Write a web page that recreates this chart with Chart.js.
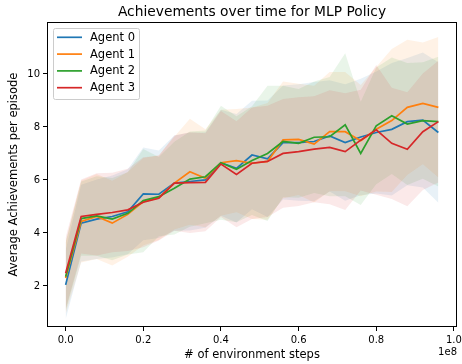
<!DOCTYPE html>
<html>
<head>
<meta charset="utf-8">
<script src="https://cdn.jsdelivr.net/npm/chart.js@4"></script>
<style>
  body { margin: 0; background: #fff; }
</style>
</head>
<body>
<canvas id="achievements" width="462" height="364"></canvas>
<script>
// environment steps (x values)
var steps = [0, 4e6, 8e6, 12e6, 16e6, 20e6, 24e6, 28e6, 32e6, 36e6, 40e6, 44e6, 48e6,
  52e6, 56e6, 60e6, 64e6, 68e6, 72e6, 76e6, 80e6, 84e6, 88e6, 92e6, 96e6];

var agentNames = ["Agent 0", "Agent 1", "Agent 2", "Agent 3"];

// mean achievements per episode
var agent0Mean = [2.04, 4.37, 4.52, 4.62, 4.80, 5.47, 5.46, 5.88, 5.94, 6.00, 6.65, 6.44, 6.94,
  6.80, 7.41, 7.41, 7.45, 7.66, 7.41, 7.62, 7.79, 7.91, 8.20, 8.26, 7.79];
var agent1Mean = [2.30, 4.43, 4.62, 4.37, 4.70, 5.18, 5.33, 5.88, 6.31, 6.06, 6.65, 6.73, 6.63,
  6.70, 7.51, 7.53, 7.35, 7.82, 7.82, 7.48, 7.91, 8.24, 8.74, 8.89, 8.74];
var agent2Mean = [2.35, 4.54, 4.64, 4.52, 4.74, 5.22, 5.37, 5.69, 6.03, 6.12, 6.65, 6.40, 6.73,
  7.00, 7.45, 7.38, 7.61, 7.63, 8.08, 7.00, 8.04, 8.42, 8.11, 8.24, 8.20];
var agent3Mean = [2.48, 4.62, 4.70, 4.77, 4.87, 5.16, 5.31, 5.88, 5.90, 5.91, 6.60, 6.21, 6.63,
  6.70, 7.00, 7.07, 7.16, 7.23, 7.07, 7.50, 7.89, 7.38, 7.16, 7.82, 8.20];

// standard deviation (shaded band)
var agent0Std = [1.30, 1.45, 1.50, 1.55, 1.60, 1.75, 1.65, 1.80, 1.85, 1.80, 2.00, 2.05, 2.05,
  2.20, 2.15, 2.20, 2.25, 2.10, 2.20, 2.20, 2.30, 2.50, 2.40, 2.55, 2.65];
var agent1Std = [1.35, 1.55, 1.60, 1.60, 1.60, 1.65, 1.60, 1.75, 2.00, 1.85, 2.00, 1.95, 2.10,
  2.20, 2.20, 2.10, 2.20, 2.25, 2.25, 2.10, 2.35, 2.70, 2.55, 2.30, 2.65];
var agent2Std = [1.30, 1.40, 1.50, 1.55, 1.55, 1.95, 1.50, 1.75, 1.80, 1.75, 2.15, 2.00, 2.05,
  2.55, 2.10, 2.05, 2.10, 2.25, 2.70, 1.95, 2.20, 2.20, 2.30, 2.20, 2.45];
var agent3Std = [1.35, 1.40, 1.55, 1.50, 1.55, 1.70, 1.60, 1.80, 1.90, 1.85, 2.00, 2.00, 2.10,
  2.10, 2.05, 2.05, 2.00, 2.15, 2.20, 1.90, 2.45, 2.10, 2.15, 2.20, 2.30];

var xTicks = [0, 0.2e8, 0.4e8, 0.6e8, 0.8e8, 1.0e8];
var yTicks = [2, 4, 6, 8, 10];

var colors = ["#1f77b4", "#ff7f0e", "#2ca02c", "#d62728"];
var fills = ["rgba(31,119,180,0.1)", "rgba(255,127,14,0.1)", "rgba(44,160,44,0.1)", "rgba(214,39,40,0.1)"];

var means = [agent0Mean, agent1Mean, agent2Mean, agent3Mean];
var stds = [agent0Std, agent1Std, agent2Std, agent3Std];

function pts(vals) {
  return vals.map(function (v, i) { return { x: steps[i], y: v }; });
}

var datasets = [];
// lines first (they are the legend entries)
means.forEach(function (m, k) {
  datasets.push({
    label: agentNames[k],
    data: pts(m),
    borderColor: colors[k],
    borderWidth: 1.7,
    pointRadius: 0,
    fill: false,
    tension: 0,
    order: 4 - k,
  });
});
// bands: lower (invisible) then upper filled to lower
means.forEach(function (m, k) {
  var lo = m.map(function (v, i) { return v - stds[k][i]; });
  var hi = m.map(function (v, i) { return v + stds[k][i]; });
  datasets.push({
    label: "lo" + k, data: pts(lo), borderWidth: 0, pointRadius: 0,
    fill: false, order: 20 - k,
  });
  datasets.push({
    label: "hi" + k, data: pts(hi), borderWidth: 0, pointRadius: 0,
    backgroundColor: fills[k], fill: "-1", order: 20 - k,
  });
});

var font = "DejaVu Sans";

var decor = {
  id: "decor",
  afterDraw: function (chart) {
    var ctx = chart.ctx, a = chart.chartArea;
    ctx.save();
    // frame
    ctx.strokeStyle = "#000";
    ctx.lineWidth = 1;
    ctx.strokeRect(Math.round(a.left) + 0.5, Math.round(a.top) + 0.5,
      Math.round(a.right - a.left) - 1, Math.round(a.bottom - a.top) - 1);

    // title
    ctx.fillStyle = "#000";
    ctx.font = "13.8px '" + font + "'";
    ctx.textAlign = "center";
    ctx.textBaseline = "middle";
    ctx.fillText("Achievements over time for MLP Policy", (a.left + a.right) / 2, 12);

    // offset text
    ctx.font = "10px '" + font + "'";
    ctx.textAlign = "right";
    ctx.fillText("1e8", a.right, 352);

    // legend
    var lx = a.left + 6, ly = a.top + 6, lw = 86, lh = 71;
    ctx.fillStyle = "rgba(255,255,255,0.8)";
    ctx.strokeStyle = "#cccccc";
    ctx.beginPath();
    ctx.roundRect(lx + 0.5, ly + 0.5, lw, lh, 2);
    ctx.fill();
    ctx.stroke();
    ctx.font = "11.5px '" + font + "'";
    ctx.textAlign = "left";
    for (var k = 0; k < 4; k++) {
      var ds = chart.data.datasets[k];
      var y = ly + 9.3 + k * 16.8;
      ctx.strokeStyle = ds.borderColor;
      ctx.lineWidth = 1.7;
      ctx.beginPath();
      ctx.moveTo(lx + 4, y);
      ctx.lineTo(lx + 29, y);
      ctx.stroke();
      ctx.fillStyle = "#000";
      ctx.fillText(ds.label, lx + 37, y + 0.5);
    }
    ctx.restore();
  },
};

new Chart(document.getElementById("achievements"), {
  type: "line",
  data: { datasets: datasets },
  options: {
    responsive: false,
    animation: false,
    layout: { padding: { top: 22, right: 5, left: 0, bottom: 0 } },
    plugins: {
      legend: { display: false },
      title: { display: false },
      tooltip: { enabled: false },
      filler: { propagate: false },
    },
    scales: {
      x: {
        type: "linear",
        min: -0.048e8,
        max: 1.008e8,
        border: { display: false },
        grid: { drawOnChartArea: false, drawTicks: true, tickLength: 4, color: "#000" },
        afterBuildTicks: function (s) {
          s.ticks = xTicks.map(function (v) { return { value: v }; });
        },
        afterFit: function (s) {
          s.height = 37;
          s.paddingLeft = 0;
          s.paddingRight = 0;
        },
        ticks: {
          color: "#000",
          padding: 3.4,
          maxRotation: 0,
          font: { family: font, size: 10 },
          callback: function (v) { return (v / 1e8).toFixed(1); },
        },
        title: {
          display: true,
          text: "# of environment steps",
          color: "#000",
          font: { family: font, size: 11.5 },
          padding: { top: 0, bottom: 2.1 },
        },
      },
      y: {
        min: 0.45,
        max: 11.96,
        border: { display: false },
        grid: { drawOnChartArea: false, drawTicks: true, tickLength: 4, color: "#000" },
        afterBuildTicks: function (s) {
          s.ticks = yTicks.map(function (v) { return { value: v }; });
        },
        afterFit: function (s) {
          s.width = 47;
          s.paddingTop = 0;
          s.paddingBottom = 0;
        },
        ticks: {
          color: "#000",
          padding: 3,
          font: { family: font, size: 10 },
          callback: function (v) { return String(v); },
        },
        title: {
          display: true,
          text: "Average Achievements per episode",
          color: "#000",
          font: { family: font, size: 11.5 },
          padding: { top: 7, bottom: 0 },
        },
      },
    },
  },
  plugins: [decor],
});
</script>
</body>
</html>
